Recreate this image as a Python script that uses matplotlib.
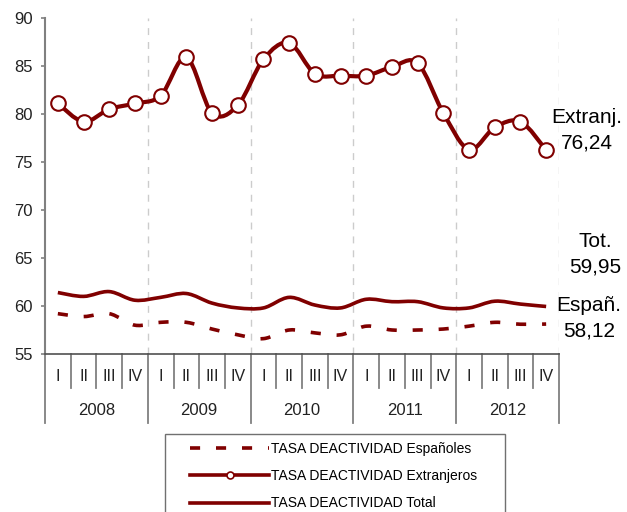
import numpy as np
import matplotlib.pyplot as plt
import matplotlib.transforms as mtransforms
from matplotlib.path import Path
from matplotlib.patches import PathPatch, Rectangle
from matplotlib.lines import Line2D

plt.rcParams['font.family'] = ['Liberation Sans', 'DejaVu Sans']

# data (quarters 2008 I .. 2012 IV)
years = ['2008', '2009', '2010', '2011', '2012']
quarters = ['I', 'II', 'III', 'IV']
espanoles = [59.2, 58.9, 59.2, 58.0, 58.3, 58.3, 57.6, 57.0, 56.6, 57.5,
             57.2, 57.0, 57.9, 57.5, 57.5, 57.6, 57.9, 58.3, 58.1, 58.12]
extranjeros = [81.1, 79.2, 80.5, 81.1, 81.9, 85.9, 80.1, 80.9, 85.7, 87.4,
               84.2, 84.0, 84.0, 84.9, 85.3, 80.1, 76.3, 78.6, 79.2, 76.24]
total = [61.4, 61.0, 61.5, 60.6, 60.9, 61.3, 60.3, 59.8, 59.8, 60.9,
         60.1, 59.8, 60.7, 60.45, 60.45, 59.8, 59.8, 60.5, 60.2, 59.95]
end_labels = ['Extranj.\n76,24', 'Tot.\n59,95', 'Españ.\n58,12']
legend_labels = ['TASA DEACTIVIDAD Españoles',
                 'TASA DEACTIVIDAD Extranjeros',
                 'TASA DEACTIVIDAD Total']

red = '#800000'
grey = '#808080'


def smooth_path(x, y):
    # excel-like smoothed line (bezier through the points)
    verts = [(x[0], y[0])]
    codes = [Path.MOVETO]
    n = len(x)
    for i in range(n - 1):
        xa, ya = (x[i - 1], y[i - 1]) if i > 0 else (x[i], y[i])
        xb, yb = (x[i + 2], y[i + 2]) if i + 2 < n else (x[i + 1], y[i + 1])
        c1 = (x[i] + (x[i + 1] - xa) / 6, y[i] + (y[i + 1] - ya) / 6)
        c2 = (x[i + 1] - (xb - x[i]) / 6, y[i + 1] - (yb - y[i]) / 6)
        verts += [c1, c2, (x[i + 1], y[i + 1])]
        codes += [Path.CURVE4] * 3
    return Path(verts, codes)


x = np.arange(len(total))

fig = plt.figure(figsize=(6.27, 5.12), dpi=100)
ax = fig.add_axes([45 / 627, 1 - 354 / 512, 514 / 627, 336 / 512])

ax.set_xlim(-0.5, 19.5)
ax.set_ylim(55, 90)
ax.set_yticks(range(55, 91, 5))
ax.set_xticks([])

for s in ['top', 'right']:
    ax.spines[s].set_visible(False)
ax.spines['left'].set_color(grey)
ax.spines['left'].set_linewidth(1.5)
ax.spines['bottom'].set_color('#505050')
ax.spines['bottom'].set_linewidth(1.2)
ax.tick_params(axis='y', labelsize=12, length=3, width=1.2, color=grey, pad=6,
               labelcolor='#222222')

# year gridlines
for gx in [3.5, 7.5, 11.5, 15.5, 19.5]:
    ax.axvline(gx, color='#cccccc', ls=(0, (5, 5)), lw=1, zorder=0)

ax.add_patch(PathPatch(smooth_path(x, espanoles), fill=False, edgecolor=red,
                       lw=2.6, linestyle=(0, (2.8, 4.4)), capstyle='butt', zorder=3))
ax.add_patch(PathPatch(smooth_path(x, total), fill=False, edgecolor=red,
                       lw=2.6, zorder=3))
ax.add_patch(PathPatch(smooth_path(x, extranjeros), fill=False, edgecolor=red,
                       lw=3, zorder=4))
ax.plot(x, extranjeros, ls='none', marker='o', ms=10.5, mfc='white', mec=red,
        mew=1.5, zorder=5)

# category axis below
trans = mtransforms.blended_transform_factory(ax.transData, ax.transAxes)
for i in range(21):
    bx = i - 0.5
    bottom = -0.205 if i % 4 == 0 else -0.101
    ax.plot([bx, bx], [0, bottom], transform=trans, clip_on=False,
            color=grey, lw=1.3)
for i in x:
    ax.text(i, -0.0655, quarters[i % 4], transform=trans, ha='center',
            va='center', fontsize=11.5, color='#222222')
for k, yr in enumerate(years):
    ax.text(4 * k + 1.5, -0.1667, yr, transform=trans, ha='center',
            va='center', fontsize=12, color='#222222')

# end labels
fig.text(587 / 627, 1 - 130 / 512, end_labels[0], ha='center', va='center',
         fontsize=15, linespacing=1.45)
fig.text(595 / 627, 1 - 254 / 512, end_labels[1], ha='center', va='center',
         fontsize=15, linespacing=1.45)
fig.text(589 / 627, 1 - 318 / 512, end_labels[2], ha='center', va='center',
         fontsize=15, linespacing=1.45)

# legend with its own box
fig.patches.append(Rectangle((165 / 627, -0.05), 340 / 627, 0.05 + 78 / 512,
                             transform=fig.transFigure, fill=False,
                             edgecolor='#707070', lw=1))
handles = [Line2D([], [], color=red, lw=2.6, ls=(0, (2.8, 4.4))),
           Line2D([], [], color=red, lw=2.6, marker='o', ms=5, mfc='white',
                  mec=red, mew=1.2),
           Line2D([], [], color=red, lw=2.6)]
fig.legend(handles, legend_labels, loc='upper left',
           bbox_to_anchor=(190 / 627, 1 - 442 / 512), frameon=False,
           fontsize=10, handlelength=5.7, handletextpad=0.15,
           labelspacing=0.95, borderpad=0, borderaxespad=0)

fig.savefig('out.png', dpi=100)
